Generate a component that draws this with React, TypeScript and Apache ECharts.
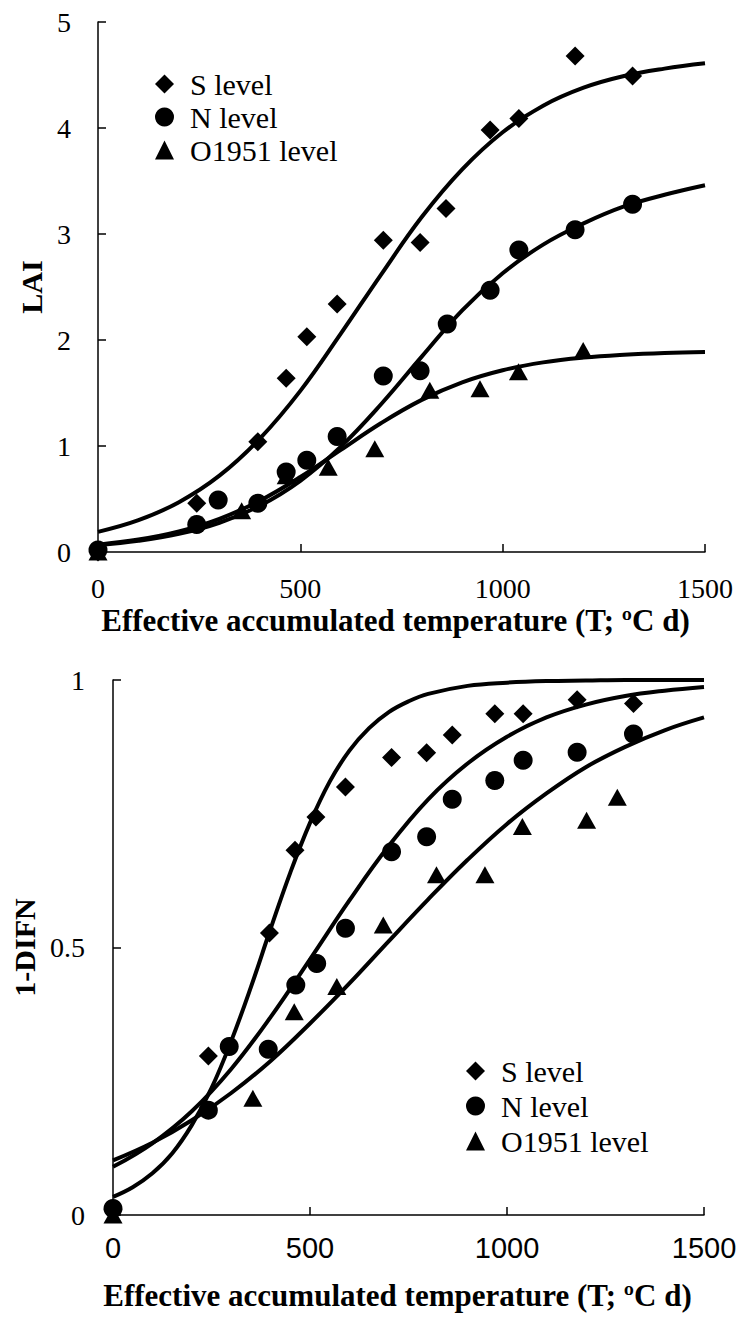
import React, { useEffect, useRef } from "react";
import * as echarts from "echarts";

// ---------- Data ----------
const X_TITLE = "Effective accumulated temperature (T; ºC d)";
const TOP_Y_TITLE = "LAI";
const BOT_Y_TITLE = "1-DIFN";
const SERIES_NAMES = ["S level", "N level", "O1951 level"];

// Top panel: LAI observations
const topS_T = [0, 244, 395, 465, 516, 591, 705, 796, 860, 969, 1040, 1179, 1321];
const topS_LAI = [0, 0.46, 1.04, 1.64, 2.03, 2.34, 2.94, 2.92, 3.24, 3.98, 4.09, 4.68, 4.49];
const topN_T = [0, 244, 297, 395, 465, 516, 591, 705, 796, 863, 969, 1040, 1179, 1321];
const topN_LAI = [0.02, 0.26, 0.49, 0.46, 0.755, 0.865, 1.09, 1.66, 1.71, 2.15, 2.47, 2.85, 3.04, 3.28];
const topO_T = [0, 355, 465, 569, 684, 820, 944, 1039, 1199];
const topO_LAI = [0, 0.39, 0.72, 0.8, 0.975, 1.525, 1.54, 1.7, 1.9];

// Top panel: fitted curves (read at 100-unit steps)
const topCurveT = [0, 100, 200, 300, 400, 500, 600, 700, 800, 900, 1000, 1100, 1200, 1300, 1400, 1500];
const topFitS = [0.19, 0.3, 0.47, 0.72, 1.07, 1.52, 2.06, 2.62, 3.16, 3.61, 3.96, 4.21, 4.38, 4.49, 4.56, 4.61];
const topFitN = [0.064, 0.105, 0.171, 0.276, 0.437, 0.672, 0.994, 1.396, 1.843, 2.28, 2.63, 2.9, 3.1, 3.26, 3.37, 3.46];
const topFitO = [0.069, 0.117, 0.194, 0.313, 0.484, 0.707, 0.963, 1.217, 1.435, 1.601, 1.715, 1.789, 1.834, 1.861, 1.878, 1.887];

// Bottom panel: 1-DIFN observations
const botS_T = [0, 242, 397, 462, 515, 590, 707, 796, 861, 969, 1041, 1178, 1321];
const botS_Y = [0.01, 0.297, 0.527, 0.682, 0.744, 0.8, 0.855, 0.864, 0.897, 0.937, 0.937, 0.963, 0.956];
const botN_T = [0, 242, 295, 394, 464, 517, 590, 707, 796, 861, 969, 1041, 1178, 1321];
const botN_Y = [0.012, 0.196, 0.315, 0.31, 0.43, 0.47, 0.536, 0.679, 0.707, 0.777, 0.812, 0.85, 0.865, 0.899];
const botO_T = [0, 355, 460, 568, 686, 821, 944, 1039, 1202, 1280];
const botO_Y = [0, 0.218, 0.38, 0.427, 0.542, 0.636, 0.636, 0.726, 0.738, 0.781];

// Bottom panel: fitted curves
const botCurveS_T = [0, 50, 100, 150, 200, 250, 300, 350, 400, 450, 500, 550, 600, 650, 700, 750, 800, 900, 1000, 1100, 1200, 1300, 1400, 1500];
const botFitS = [0.034, 0.052, 0.078, 0.115, 0.168, 0.237, 0.325, 0.426, 0.535, 0.64, 0.733, 0.81, 0.868, 0.91, 0.94, 0.96, 0.974, 0.989, 0.995, 0.998, 0.999, 1.0, 1.0, 1.0];
const botCurveT = [0, 100, 200, 300, 400, 500, 600, 700, 800, 900, 1000, 1100, 1200, 1300, 1400, 1500];
const botFitN = [0.09, 0.134, 0.194, 0.273, 0.37, 0.478, 0.588, 0.69, 0.777, 0.844, 0.894, 0.93, 0.954, 0.97, 0.98, 0.987];
const botFitO = [0.102, 0.135, 0.177, 0.228, 0.288, 0.358, 0.433, 0.512, 0.59, 0.664, 0.731, 0.788, 0.837, 0.875, 0.906, 0.93];

// Axis ticks
const X_MIN = 0, X_MAX = 1500, X_STEP = 500;
const TOP_Y_MIN = 0, TOP_Y_MAX = 5, TOP_Y_STEP = 1;
const BOT_Y_MIN = 0, BOT_Y_MAX = 1, BOT_Y_STEP = 0.5;

// ---------- Helpers ----------
const zip = (xs: number[], ys: number[]) => xs.map((x, i) => [x, ys[i]]);
const SERIF = "Liberation Serif";
const NARROW = "'Liberation Sans Narrow', 'Liberation Sans', sans-serif";
const BLACK = "#000";
const SYMBOLS = ["diamond", "circle", "triangle"];
const SYMBOL_SIZES: any[] = [19, 19, [19, 17]];
const plain = (v: number) => String(v);

const axisLine = { show: true, lineStyle: { color: BLACK, width: 1.5 } };
const axisTick = { show: true, inside: true, length: 8, lineStyle: { color: BLACK, width: 1.5 } };

function scatter(name: string, idx: number, grid: number, xs: number[], ys: number[]) {
  return {
    type: "scatter",
    name,
    xAxisIndex: grid,
    yAxisIndex: grid,
    symbol: SYMBOLS[idx],
    symbolSize: SYMBOL_SIZES[idx],
    itemStyle: { color: BLACK, opacity: 1 },
    data: zip(xs, ys),
    clip: false,
    z: 3,
  };
}

function curve(name: string, grid: number, xs: number[], ys: number[]) {
  return {
    type: "line",
    name,
    xAxisIndex: grid,
    yAxisIndex: grid,
    smooth: 0.4,
    showSymbol: false,
    symbol: "none",
    lineStyle: { color: BLACK, width: 4 },
    data: zip(xs, ys),
    z: 2,
  };
}

function legend(left: number, top: number, gap: number) {
  return {
    orient: "vertical",
    left,
    top,
    itemWidth: 19,
    itemHeight: 19,
    itemGap: gap,
    selectedMode: false,
    data: SERIES_NAMES.map((n, i) => ({ name: n, icon: SYMBOLS[i] })),
    textStyle: { fontFamily: SERIF, fontSize: 30, color: BLACK, padding: [0, 0, 0, 11] },
  };
}

export default function App() {
  const ref = useRef<HTMLDivElement>(null);

  useEffect(() => {
    if (!ref.current) return;
    const chart = echarts.init(ref.current, undefined, { renderer: "svg" });
    const option: any = {
      animation: false,
      backgroundColor: "#fff",
      textStyle: { fontFamily: SERIF },
      legend: [legend(150, 64, 3), legend(461, 1051, 5)],
      grid: [
        { left: 98, top: 22, width: 607, height: 530 },
        { left: 113, top: 680, width: 591, height: 535 },
      ],
      xAxis: [
        {
          type: "value",
          gridIndex: 0,
          min: X_MIN,
          max: X_MAX,
          interval: X_STEP,
          axisLine,
          axisTick,
          splitLine: { show: false },
          axisLabel: { fontFamily: SERIF, fontSize: 28, color: BLACK, margin: 22, formatter: plain },
          name: X_TITLE,
          nameLocation: "middle",
          nameGap: 53,
          nameTextStyle: { fontFamily: SERIF, fontWeight: "bold", fontSize: 31, color: BLACK, padding: [0, 12, 0, 0] },
        },
        {
          type: "value",
          gridIndex: 1,
          min: X_MIN,
          max: X_MAX,
          interval: X_STEP,
          axisLine,
          axisTick,
          splitLine: { show: false },
          axisLabel: { fontFamily: NARROW, fontSize: 29, color: BLACK, margin: 18, formatter: plain },
          name: X_TITLE,
          nameLocation: "middle",
          nameGap: 65,
          nameTextStyle: { fontFamily: SERIF, fontWeight: "bold", fontSize: 31, color: BLACK, padding: [0, 22, 0, 0] },
        },
      ],
      yAxis: [
        {
          type: "value",
          gridIndex: 0,
          min: TOP_Y_MIN,
          max: TOP_Y_MAX,
          interval: TOP_Y_STEP,
          axisLine,
          axisTick,
          splitLine: { show: false },
          axisLabel: { fontFamily: SERIF, fontSize: 28, color: BLACK, margin: 27, formatter: plain },
          name: TOP_Y_TITLE,
          nameLocation: "middle",
          nameRotate: 90,
          nameGap: 48,
          nameTextStyle: { fontFamily: SERIF, fontWeight: "bold", fontSize: 30, color: BLACK },
        },
        {
          type: "value",
          gridIndex: 1,
          min: BOT_Y_MIN,
          max: BOT_Y_MAX,
          interval: BOT_Y_STEP,
          axisLine,
          axisTick,
          splitLine: { show: false },
          axisLabel: { fontFamily: SERIF, fontSize: 28, color: BLACK, margin: 28, formatter: plain },
          name: BOT_Y_TITLE,
          nameLocation: "middle",
          nameRotate: 90,
          nameGap: 62,
          nameTextStyle: { fontFamily: SERIF, fontWeight: "bold", fontSize: 30, color: BLACK },
        },
      ],
      series: [
        curve("S fit (LAI)", 0, topCurveT, topFitS),
        curve("N fit (LAI)", 0, topCurveT, topFitN),
        curve("O1951 fit (LAI)", 0, topCurveT, topFitO),
        scatter(SERIES_NAMES[0], 0, 0, topS_T, topS_LAI),
        scatter(SERIES_NAMES[1], 1, 0, topN_T, topN_LAI),
        scatter(SERIES_NAMES[2], 2, 0, topO_T, topO_LAI),
        curve("S fit (DIFN)", 1, botCurveS_T, botFitS),
        curve("N fit (DIFN)", 1, botCurveT, botFitN),
        curve("O1951 fit (DIFN)", 1, botCurveT, botFitO),
        scatter(SERIES_NAMES[0], 0, 1, botS_T, botS_Y),
        scatter(SERIES_NAMES[1], 1, 1, botN_T, botN_Y),
        scatter(SERIES_NAMES[2], 2, 1, botO_T, botO_Y),
      ],
    };
    chart.setOption(option);
    return () => chart.dispose();
  }, []);

  return (
    <div
      ref={ref}
      style={{ position: "absolute", left: 0, top: 0, width: 740, height: 1318, background: "#fff" }}
    />
  );
}
